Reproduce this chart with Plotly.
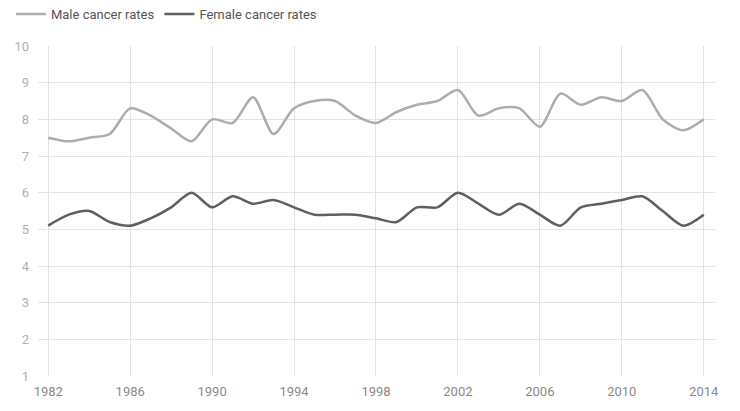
import plotly.graph_objects as go

years = list(range(1982, 2015))
male = [7.5, 7.4, 7.5, 7.6, 8.3, 8.1, 7.75, 7.4, 8.0, 7.9, 8.6, 7.6, 8.3, 8.5, 8.5, 8.1,
        7.9, 8.2, 8.4, 8.5, 8.8, 8.1, 8.3, 8.3, 7.8, 8.7, 8.4, 8.6, 8.5, 8.8, 8.0, 7.7, 8.0]
female = [5.1, 5.4, 5.5, 5.2, 5.1, 5.3, 5.6, 6.0, 5.6, 5.9, 5.7, 5.8, 5.6, 5.4, 5.4, 5.4,
          5.3, 5.2, 5.6, 5.6, 6.0, 5.7, 5.4, 5.7, 5.4, 5.1, 5.6, 5.7, 5.8, 5.9, 5.5, 5.1, 5.4]
x_ticks = list(range(1982, 2015, 4))
y_ticks = list(range(1, 11))

fig = go.Figure()
fig.add_trace(go.Scatter(x=years, y=male, mode="lines", name="Male cancer rates",
                         line=dict(color="#adadad", width=2.5, shape="spline", smoothing=0.8)))
fig.add_trace(go.Scatter(x=years, y=female, mode="lines", name="Female cancer rates",
                         line=dict(color="#5f5f5f", width=2.5, shape="spline", smoothing=0.8)))

fig.update_layout(
    width=732, height=403,
    margin=dict(l=30, r=25, t=38, b=35, autoexpand=False),
    paper_bgcolor="white", plot_bgcolor="white",
    font=dict(family="Roboto", size=13, color="#555555"),
    legend=dict(orientation="h", xref="container", yref="container",
                x=0.004, xanchor="left", y=0.985, yanchor="middle",
                font=dict(size=13, color="#555555"), itemwidth=30, tracegroupgap=0),
    showlegend=True,
)
fig.update_xaxes(range=[1981.5, 2014.55], tickvals=x_ticks, showgrid=True,
                 gridcolor="#e3e3e3", gridwidth=1, zeroline=False, showline=False,
                 tickfont=dict(size=13, color="#8a8a8a"), ticks="", ticklabelstandoff=6,
                 automargin=False)
fig.update_yaxes(range=[1, 10], tickvals=y_ticks, showgrid=True,
                 gridcolor="#e3e3e3", gridwidth=1, zeroline=False, showline=False,
                 tickfont=dict(size=13, color="#b0b0b0"), ticks="", ticklabelstandoff=8,
                 automargin=False)

fig.write_html("out.html")
